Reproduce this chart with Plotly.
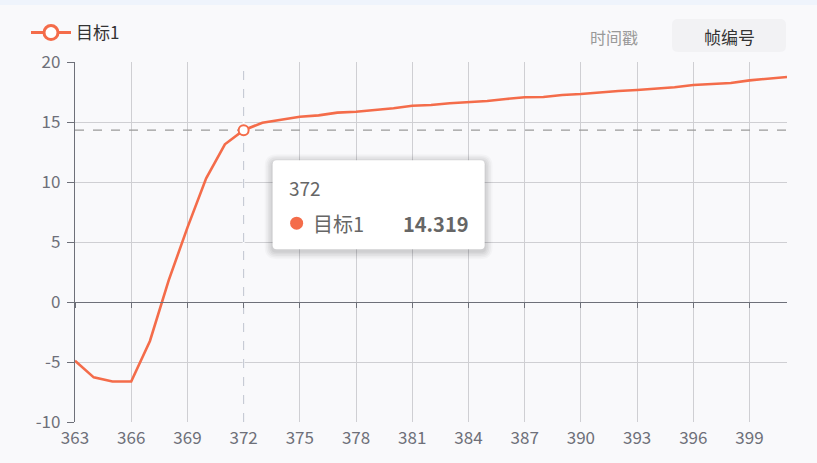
import plotly.graph_objects as go

# frame number -> value of 目标1
frames = list(range(363, 402))
target1 = [-4.9, -6.28, -6.62, -6.62, -3.25, 1.8, 6.2, 10.3, 13.14, 14.319,
           14.94, 15.17, 15.44, 15.55, 15.78, 15.86, 16.0, 16.14, 16.36, 16.42,
           16.56, 16.64, 16.75, 16.92, 17.06, 17.08, 17.25, 17.33, 17.47, 17.58,
           17.67, 17.75, 17.89, 18.08, 18.14, 18.25, 18.47, 18.64, 18.75]
series_name = "目标1"
y_ticks = [-10, -5, 0, 5, 10, 15, 20]
x_ticks = list(range(363, 402, 3))
hover_frame = 372
buttons = ["时间戳", "帧编号"]

W, H = 817, 463
L, R, T, B = 75, 787, 62, 422
ORANGE = "#f46c4a"
AXIS = "#6e7079"
BG = "#f9f9fb"
FONT = "Noto Sans CJK SC, Noto Sans, sans-serif"

xr = [frames[0], frames[-1]]
yr = [y_ticks[0], y_ticks[-1]]


def px(x, y):
    return (x - L) / (R - L), (B - y) / (B - T)


def to_px(xv, yv):
    return (L + (xv - xr[0]) / (xr[1] - xr[0]) * (R - L),
            B - (yv - yr[0]) / (yr[1] - yr[0]) * (B - T))


def rrect(x0, y0, x1, y1, r):
    def p(x, y):
        a, b = px(x, y)
        return f"{a:.5f},{b:.5f}"
    return (f"M{p(x0 + r, y0)} L{p(x1 - r, y0)} Q{p(x1, y0)} {p(x1, y0 + r)} "
            f"L{p(x1, y1 - r)} Q{p(x1, y1)} {p(x1 - r, y1)} L{p(x0 + r, y1)} "
            f"Q{p(x0, y1)} {p(x0, y1 - r)} L{p(x0, y0 + r)} Q{p(x0, y0)} {p(x0 + r, y0)} Z")


fig = go.Figure()
fig.add_trace(go.Scatter(x=frames, y=target1, mode="lines", name=series_name,
                         line=dict(color=ORANGE, width=2.6), showlegend=False,
                         hoverinfo="skip"))
# legend entry
fig.add_trace(go.Scatter(x=[None], y=[None], mode="lines+markers", name=series_name,
                         line=dict(color=ORANGE, width=3),
                         marker=dict(symbol="circle", size=14, color="white",
                                     line=dict(color=ORANGE, width=3))))
# axis ticks sitting on the zero line
fig.add_trace(go.Scatter(x=frames, y=target1, xaxis="x2", mode="lines",
                         line=dict(width=0), opacity=0, showlegend=False,
                         hoverinfo="skip"))

hi = frames.index(hover_frame)
hx, hy = frames[hi], target1[hi]

shapes = []
# top strip
shapes.append(dict(type="rect", xref="paper", yref="paper",
                   x0=px(0, 0)[0], x1=px(W, 0)[0], y0=px(0, 0)[1], y1=px(0, 5)[1],
                   fillcolor="#eff4fc", line=dict(width=0), layer="below"))
# crosshair
shapes.append(dict(type="line", xref="x", yref="y", x0=hx, x1=hx, y0=yr[0], y1=yr[1],
                   line=dict(color=BG, width=2), layer="between"))
shapes.append(dict(type="line", xref="x", yref="y", x0=hx, x1=hx, y0=yr[0], y1=yr[1],
                   line=dict(color="#bfc4cf", width=1, dash="dash"), layer="between"))
shapes.append(dict(type="line", xref="x", yref="y", x0=xr[0], x1=xr[1], y0=hy, y1=hy,
                   line=dict(color="#9a9a9a", width=1.2, dash="dash"), layer="between"))

# tooltip box
ppx, ppy = to_px(hx, hy)
bx0, by0 = ppx + 29, ppy + 30
bx1, by1 = bx0 + 212, by0 + 89
for i, a in enumerate([0.025, 0.03, 0.035, 0.04, 0.045]):
    g = 8 - i * 1.6
    shapes.append(dict(type="path", xref="paper", yref="paper",
                       path=rrect(bx0 - g, by0 - g + 2, bx1 + g, by1 + g + 2, 4 + g),
                       fillcolor=f"rgba(0,0,0,{a})", line=dict(width=0)))
shapes.append(dict(type="path", xref="paper", yref="paper",
                   path=rrect(bx0, by0, bx1, by1, 4), fillcolor="white",
                   line=dict(width=0)))
dx, dy = px(bx0 + 24, by0 + 63)
rx, ry = 6.5 / (R - L), 6.5 / (B - T)
shapes.append(dict(type="circle", xref="paper", yref="paper",
                   x0=dx - rx, x1=dx + rx, y0=dy - ry, y1=dy + ry,
                   fillcolor=ORANGE, line=dict(width=0)))

# button background
shapes.append(dict(type="path", xref="paper", yref="paper",
                   path=rrect(672, 19, 786, 52, 6), fillcolor="#f2f2f4",
                   line=dict(width=0), layer="below"))

annotations = []


def note(x, y, text, size, color, xanchor="left", bold=False):
    a, b = px(x, y)
    if bold:
        text = f"<b>{text}</b>"
    annotations.append(dict(xref="paper", yref="paper", x=a, y=b, text=text,
                            showarrow=False, xanchor=xanchor, yanchor="middle",
                            borderpad=0,
                            font=dict(size=size, color=color, family=FONT)))


note(bx0 + 15, by0 + 27, str(hx), 19, "#666666")
note(bx0 + 39, by0 + 63, series_name, 20, "#666666")
note(bx1 - 15, by0 + 63, f"{hy:.3f}", 20, "#666666", xanchor="right", bold=True)
note(614, 37, buttons[0], 16, "#999999", xanchor="center")
note(729, 36, buttons[1], 17, "#333333", xanchor="center")

# hovered point
fig.add_trace(go.Scatter(x=[hx], y=[hy], mode="markers", showlegend=False,
                         hoverinfo="skip",
                         marker=dict(symbol="circle", size=10, color="white",
                                     line=dict(color=ORANGE, width=2))))

lx, ly = px(26, 33)
fig.update_layout(
    width=W, height=H,
    margin=dict(l=L, r=W - R, t=T, b=H - B),
    paper_bgcolor=BG, plot_bgcolor=BG,
    font=dict(family=FONT, color=AXIS),
    showlegend=True,
    legend=dict(x=lx, y=ly, xanchor="left", yanchor="middle", orientation="h",
                itemwidth=40, bgcolor="rgba(0,0,0,0)",
                font=dict(size=17, color="#333333")),
    xaxis=dict(range=xr, tickvals=x_ticks, showgrid=True, gridcolor="#cfcfd3",
               gridwidth=1, showline=False, zeroline=False, ticks="",
               ticklabelstandoff=4, tickfont=dict(size=17, color=AXIS)),
    xaxis2=dict(range=xr, overlaying="x", anchor="free", position=px(0, to_px(0, 0)[1])[1],
                tickvals=x_ticks, showticklabels=False, ticks="outside", ticklen=5,
                tickcolor=AXIS, showline=True, linecolor=AXIS, linewidth=1.3,
                showgrid=False, zeroline=False, side="bottom"),
    yaxis=dict(range=yr, tickvals=y_ticks, ticktext=[str(v) for v in y_ticks],
               showgrid=True, gridcolor="#cfcfd3", gridwidth=1, zeroline=False,
               showline=True, linecolor=AXIS, linewidth=1.3, ticks="outside",
               ticklen=7, tickcolor=AXIS, ticklabelstandoff=3,
               tickfont=dict(size=17, color=AXIS)),
    shapes=shapes,
    annotations=annotations,
)

fig.write_html("out.html", config={"displayModeBar": False},
               post_script="document.body.style.margin='0';")
